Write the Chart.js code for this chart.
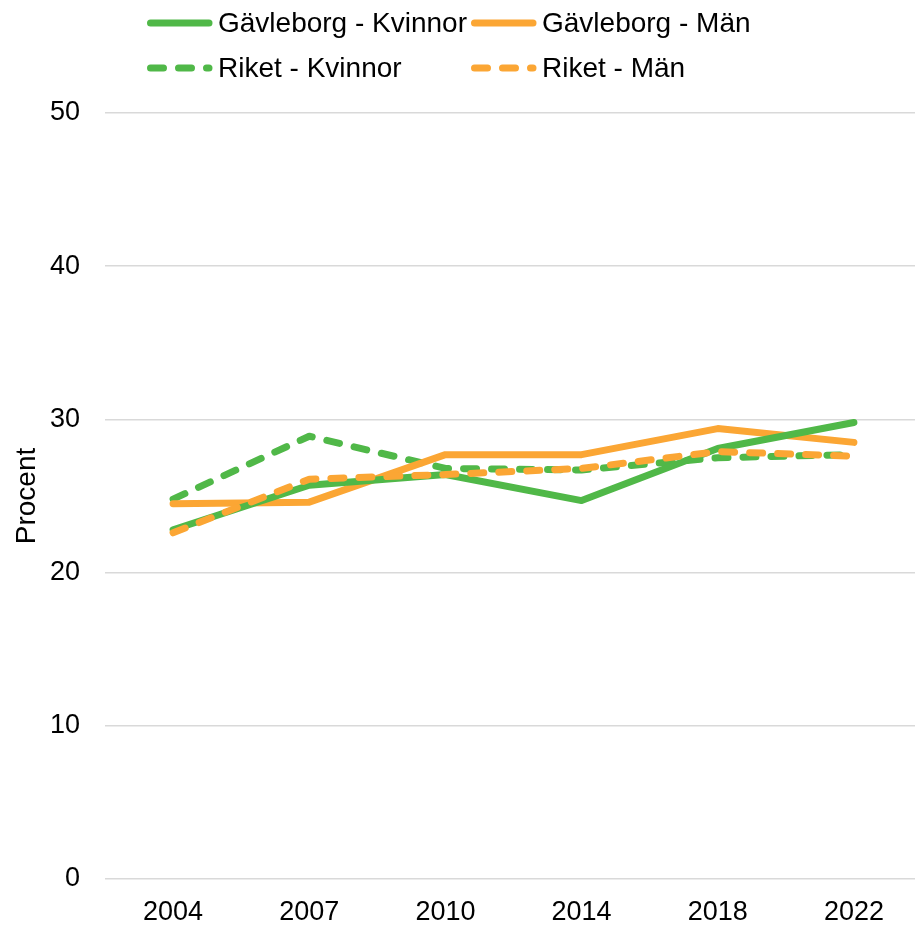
<!DOCTYPE html>
<html>
<head>
<meta charset="utf-8">
<script src="https://cdn.jsdelivr.net/npm/chart.js@4/dist/chart.umd.min.js"></script>
<style>
  html, body { margin: 0; padding: 0; background: #fff; overflow: hidden; }
  #wrap { position: relative; width: 915px; height: 925px; overflow: hidden; }
  #legend { position: absolute; left: 0; top: 0; width: 915px; height: 100px;
    font-family: "Liberation Sans", Arial, sans-serif; font-size: 28px; color: #000; }
  .item { position: absolute; display: flex; align-items: center; height: 34px; white-space: nowrap; }
  .item svg { display: block; margin-right: 5px; }
</style>
</head>
<body>
<div id="wrap">
  <canvas id="myChart" width="922" height="925"></canvas>
  <div id="legend"></div>
</div>
<script>
const years = ["2004", "2007", "2010", "2014", "2018", "2022"];
const gavleborgKvinnor = [22.8, 25.7, 26.4, 24.7, 28.1, 29.8];
const gavleborgMan = [24.5, 24.6, 27.7, 27.7, 29.4, 28.5];
const riketKvinnor = [24.8, 28.9, 26.8, 26.7, 27.5, 27.7];
const riketMan = [22.6, 26.1, 26.4, 26.8, 27.9, 27.6];
const yTicks = [0, 10, 20, 30, 40, 50];

const green = "#50b848";
const orange = "#fba634";
const dash = [13, 15];

// legend is laid out in two columns, like the original
const legendItems = [
  { label: "Gävleborg - Kvinnor", color: green, dashed: false, left: 147, top: 6 },
  { label: "Gävleborg - Män", color: orange, dashed: false, left: 471, top: 6 },
  { label: "Riket - Kvinnor", color: green, dashed: true, left: 147, top: 51 },
  { label: "Riket - Män", color: orange, dashed: true, left: 471, top: 51 },
];
const legendEl = document.getElementById("legend");
legendItems.forEach((item) => {
  const div = document.createElement("div");
  div.className = "item";
  div.style.left = item.left + "px";
  div.style.top = item.top + "px";
  const dashAttr = item.dashed ? ` stroke-dasharray="${dash.join(" ")}"` : "";
  div.innerHTML =
    `<svg width="66" height="10"><line x1="3.5" y1="5" x2="62" y2="5" stroke="${item.color}" stroke-width="7" stroke-linecap="round"${dashAttr}/></svg>` +
    `<span>${item.label}</span>`;
  legendEl.appendChild(div);
});

function line(label, data, color, dashed, order) {
  return {
    label: label,
    data: data,
    borderColor: color,
    backgroundColor: color,
    borderWidth: 7,
    borderDash: dashed ? dash : [],
    borderCapStyle: "round",
    borderJoinStyle: "round",
    pointRadius: 0,
    pointHoverRadius: 0,
    tension: 0,
    fill: false,
    order: order,
  };
}

const tickFont = { family: "'Liberation Sans', Arial, sans-serif", size: 27 };

const ctx = document.getElementById("myChart").getContext("2d");
new Chart(ctx, {
  type: "line",
  data: {
    labels: years,
    datasets: [
      line("Gävleborg - Kvinnor", gavleborgKvinnor, green, false, 1),
      line("Gävleborg - Män", gavleborgMan, orange, false, 2),
      line("Riket - Kvinnor", riketKvinnor, green, true, 3),
      line("Riket - Män", riketMan, orange, true, 0),
    ],
  },
  options: {
    responsive: false,
    animation: false,
    layout: { padding: { top: 113, right: 0, bottom: 0, left: 0 } },
    plugins: {
      legend: { display: false },
      tooltip: { enabled: false },
    },
    scales: {
      x: {
        offset: true,
        grid: { display: false, drawTicks: false },
        border: { display: false },
        ticks: { color: "#000", padding: 17, maxRotation: 0, font: tickFont },
        afterFit: (scale) => { scale.height = 46; },
      },
      y: {
        min: 0,
        max: 50,
        afterBuildTicks: (scale) => { scale.ticks = yTicks.map((v) => ({ value: v })); },
        grid: { color: "#d9d9d9", lineWidth: 1.5, drawTicks: false },
        border: { display: false },
        ticks: { color: "#000", padding: 25, font: tickFont },
        title: {
          display: true,
          text: "Procent",
          color: "#000",
          padding: { top: 10, bottom: 0 },
          font: { family: "'Liberation Sans', Arial, sans-serif", size: 28, weight: "normal" },
        },
        afterFit: (scale) => { scale.width = 105; },
      },
    },
  },
});
</script>
</body>
</html>
